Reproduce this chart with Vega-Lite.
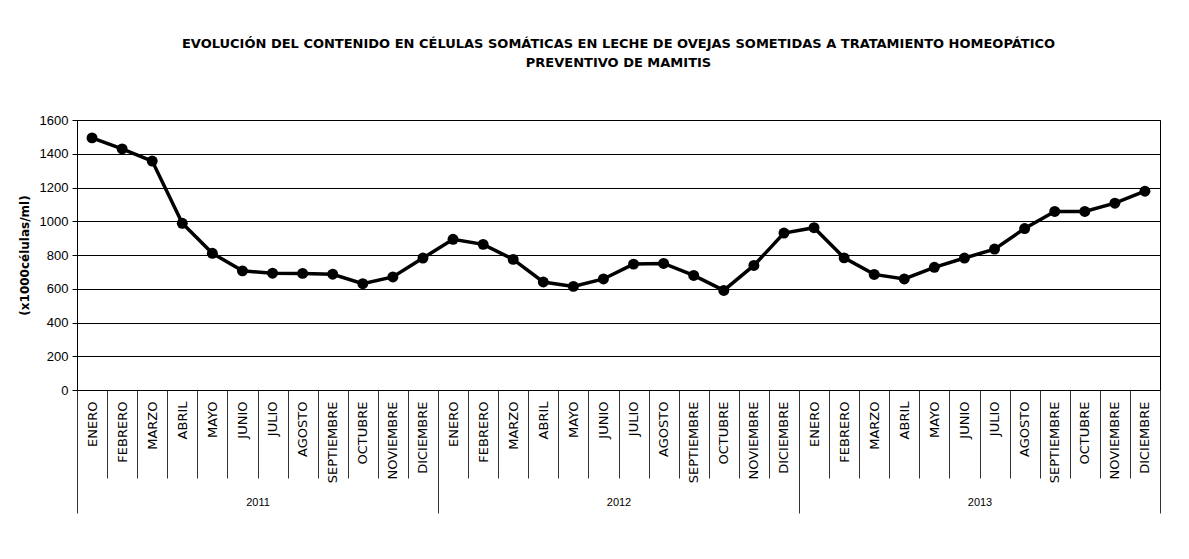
{
  "$schema": "https://vega.github.io/schema/vega-lite/v6.json",
  "width": 1083,
  "height": 270,
  "autosize": "none",
  "padding": {"left": 77, "top": 120, "right": 29, "bottom": 169},
  "background": "white",
  "title": {
    "text": ["EVOLUCIÓN DEL CONTENIDO EN  CÉLULAS SOMÁTICAS  EN LECHE DE OVEJAS SOMETIDAS A TRATAMIENTO HOMEOPÁTICO", "PREVENTIVO DE MAMITIS"],
    "font": "DejaVu Sans",
    "fontSize": 13,
    "fontWeight": "bold",
    "color": "black",
    "lineHeight": 19,
    "anchor": "middle",
    "offset": 44
  },
  "config": {
    "view": {"stroke": "black", "strokeWidth": 1}
  },
  "data": {
    "values": [
      {"anio": 2011, "mes": "ENERO", "periodo": "2011-ENERO", "celulas": 1494},
      {"anio": 2011, "mes": "FEBRERO", "periodo": "2011-FEBRERO", "celulas": 1429},
      {"anio": 2011, "mes": "MARZO", "periodo": "2011-MARZO", "celulas": 1357},
      {"anio": 2011, "mes": "ABRIL", "periodo": "2011-ABRIL", "celulas": 988},
      {"anio": 2011, "mes": "MAYO", "periodo": "2011-MAYO", "celulas": 810},
      {"anio": 2011, "mes": "JUNIO", "periodo": "2011-JUNIO", "celulas": 706},
      {"anio": 2011, "mes": "JULIO", "periodo": "2011-JULIO", "celulas": 692},
      {"anio": 2011, "mes": "AGOSTO", "periodo": "2011-AGOSTO", "celulas": 691},
      {"anio": 2011, "mes": "SEPTIEMBRE", "periodo": "2011-SEPTIEMBRE", "celulas": 686},
      {"anio": 2011, "mes": "OCTUBRE", "periodo": "2011-OCTUBRE", "celulas": 630},
      {"anio": 2011, "mes": "NOVIEMBRE", "periodo": "2011-NOVIEMBRE", "celulas": 670},
      {"anio": 2011, "mes": "DICIEMBRE", "periodo": "2011-DICIEMBRE", "celulas": 782},
      {"anio": 2012, "mes": "ENERO", "periodo": "2012-ENERO", "celulas": 893},
      {"anio": 2012, "mes": "FEBRERO", "periodo": "2012-FEBRERO", "celulas": 863},
      {"anio": 2012, "mes": "MARZO", "periodo": "2012-MARZO", "celulas": 774},
      {"anio": 2012, "mes": "ABRIL", "periodo": "2012-ABRIL", "celulas": 640},
      {"anio": 2012, "mes": "MAYO", "periodo": "2012-MAYO", "celulas": 614},
      {"anio": 2012, "mes": "JUNIO", "periodo": "2012-JUNIO", "celulas": 658},
      {"anio": 2012, "mes": "JULIO", "periodo": "2012-JULIO", "celulas": 746},
      {"anio": 2012, "mes": "AGOSTO", "periodo": "2012-AGOSTO", "celulas": 750},
      {"anio": 2012, "mes": "SEPTIEMBRE", "periodo": "2012-SEPTIEMBRE", "celulas": 679},
      {"anio": 2012, "mes": "OCTUBRE", "periodo": "2012-OCTUBRE", "celulas": 590},
      {"anio": 2012, "mes": "NOVIEMBRE", "periodo": "2012-NOVIEMBRE", "celulas": 738},
      {"anio": 2012, "mes": "DICIEMBRE", "periodo": "2012-DICIEMBRE", "celulas": 930},
      {"anio": 2013, "mes": "ENERO", "periodo": "2013-ENERO", "celulas": 962},
      {"anio": 2013, "mes": "FEBRERO", "periodo": "2013-FEBRERO", "celulas": 783},
      {"anio": 2013, "mes": "MARZO", "periodo": "2013-MARZO", "celulas": 685},
      {"anio": 2013, "mes": "ABRIL", "periodo": "2013-ABRIL", "celulas": 658},
      {"anio": 2013, "mes": "MAYO", "periodo": "2013-MAYO", "celulas": 727},
      {"anio": 2013, "mes": "JUNIO", "periodo": "2013-JUNIO", "celulas": 782},
      {"anio": 2013, "mes": "JULIO", "periodo": "2013-JULIO", "celulas": 835},
      {"anio": 2013, "mes": "AGOSTO", "periodo": "2013-AGOSTO", "celulas": 957},
      {"anio": 2013, "mes": "SEPTIEMBRE", "periodo": "2013-SEPTIEMBRE", "celulas": 1058},
      {"anio": 2013, "mes": "OCTUBRE", "periodo": "2013-OCTUBRE", "celulas": 1058},
      {"anio": 2013, "mes": "NOVIEMBRE", "periodo": "2013-NOVIEMBRE", "celulas": 1107},
      {"anio": 2013, "mes": "DICIEMBRE", "periodo": "2013-DICIEMBRE", "celulas": 1178}
    ]
  },
  "layer": [
    {
      "encoding": {
        "x": {
          "field": "periodo",
          "type": "ordinal",
          "sort": null,
          "scale": {"type": "band", "paddingInner": 0, "paddingOuter": 0},
          "axis": {
            "orient": "bottom",
            "title": null,
            "grid": false,
            "tickBand": "extent",
            "tickSize": 88,
            "tickColor": "#333333",
            "tickWidth": 1,
            "domainColor": "black",
            "labelAngle": -90,
            "labelExpr": "split(datum.label, '-')[1]",
            "labelFont": "DejaVu Sans",
            "labelFontSize": 13,
            "labelColor": "black",
            "labelPadding": -77,
            "labelOverlap": false,
            "labelBound": false
          }
        },
        "y": {
          "field": "celulas",
          "type": "quantitative",
          "scale": {"domain": [0, 1600], "nice": false},
          "axis": {
            "values": [0, 200, 400, 600, 800, 1000, 1200, 1400, 1600],
            "format": "d",
            "grid": true,
            "gridColor": "black",
            "gridWidth": 1,
            "domainColor": "black",
            "tickColor": "black",
            "tickSize": 5,
            "labelFont": "Liberation Sans",
            "labelFontSize": 13,
            "labelColor": "black",
            "labelPadding": 4,
            "title": "(x1000células/ml)",
            "titleFont": "DejaVu Sans",
            "titleFontSize": 12,
            "titleFontWeight": "bold",
            "titleColor": "black",
            "titlePadding": 8
          }
        }
      },
      "layer": [
        {"mark": {"type": "line", "color": "black", "strokeWidth": 3.5}},
        {"mark": {"type": "point", "filled": true, "color": "black", "opacity": 1, "size": 120}}
      ]
    },
    {
      "mark": {"type": "point", "opacity": 0},
      "encoding": {
        "x": {
          "field": "anio",
          "type": "ordinal",
          "scale": {"type": "band", "paddingInner": 0, "paddingOuter": 0},
          "axis": {
            "orient": "bottom",
            "title": null,
            "grid": false,
            "domain": false,
            "tickBand": "extent",
            "tickSize": 123,
            "tickColor": "#333333",
            "tickWidth": 1,
            "labelAngle": 0,
            "labelFont": "Liberation Sans",
            "labelFontSize": 11,
            "labelColor": "black",
            "labelPadding": -17
          }
        }
      }
    }
  ],
  "resolve": {"scale": {"x": "independent"}}
}
